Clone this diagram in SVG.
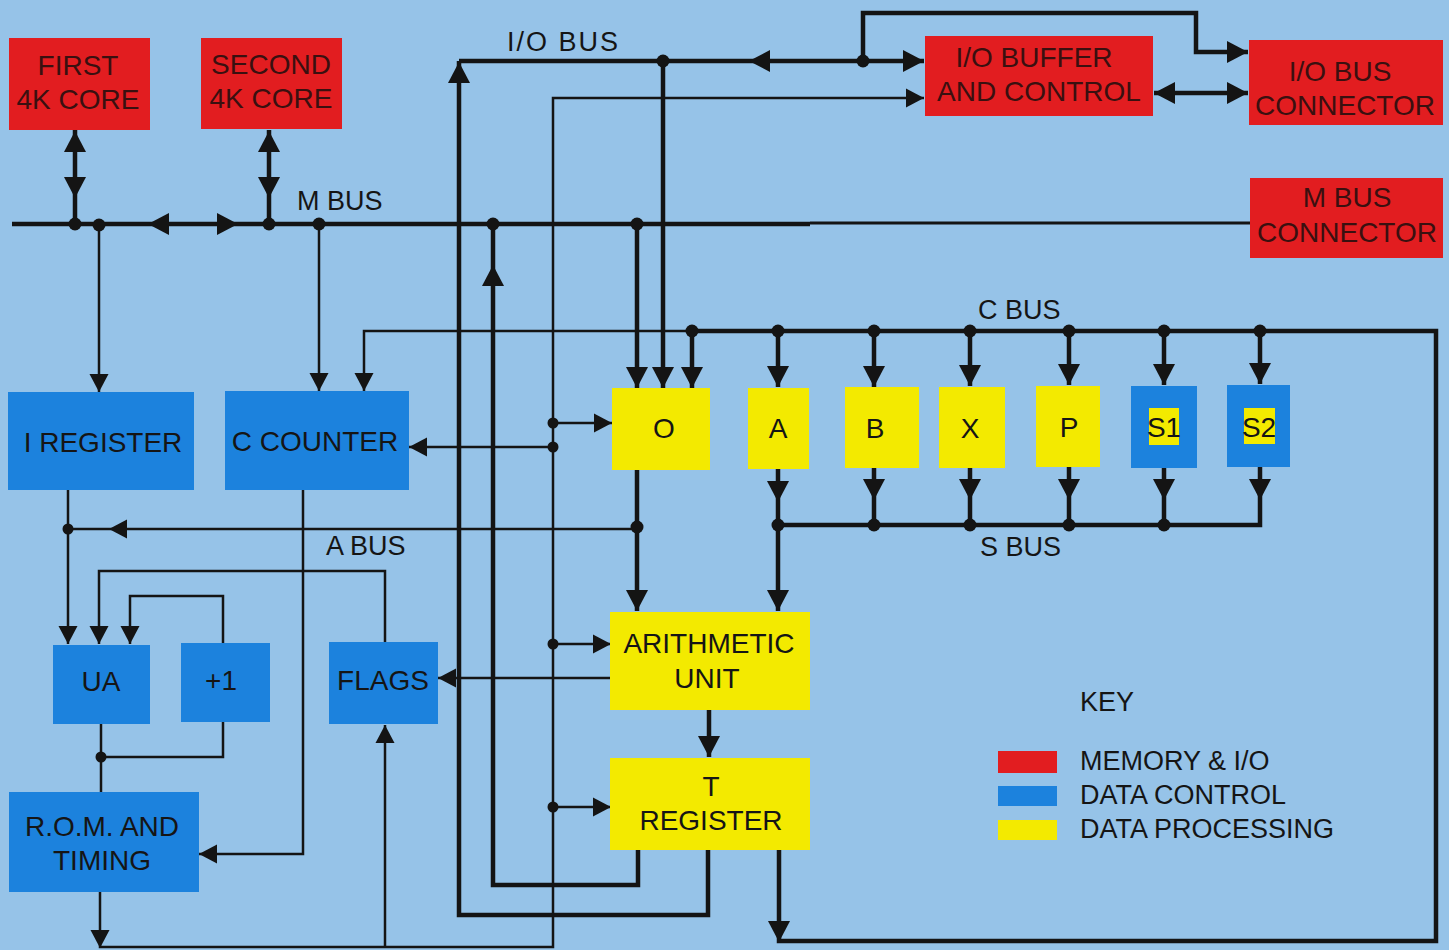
<svg xmlns="http://www.w3.org/2000/svg" xmlns:xlink="http://www.w3.org/1999/xlink" width="1449" height="950" viewBox="0 0 1449 950">
<style>
.red{fill:#e21d20}
.blue{fill:#1c82dd}
.yel{fill:#f3ea00}
.t{font-family:"Liberation Sans",Arial,sans-serif;font-size:28px;fill:#151515;text-anchor:middle}
.tr{fill:#3a1010}
.lab{font-family:"Liberation Sans",Arial,sans-serif;font-size:27px;fill:#151515}
.k{stroke:#141414;fill:none;stroke-linejoin:miter;stroke-linecap:butt}
.w{stroke-width:4.5}
.n{stroke-width:2.5}
.ah{fill:#141414}
.dot{fill:#141414}
</style>
<defs>
<path id="ab" d="M0,0 L-21,-11 L-21,11 Z"/>
<path id="as" d="M0,0 L-18,-9.5 L-18,9.5 Z"/>
</defs>
<rect x="0" y="0" width="1449" height="950" fill="#96c3e8"/>

<g id="connectors">
<!-- thick lines -->
<g class="k w">
<path d="M12,224 H810"/>
<path d="M75,130 V224 M269,130 V224"/>
<path d="M459,61 H924"/>
<path d="M459,61 V915 H708 V850"/>
<path d="M493,224 V885 H638 V850"/>
<path d="M637,224 V388"/>
<path d="M663,61 V388"/>
<path d="M692,331 V388"/>
<path d="M692,331 H1436 V941 H779 V850"/>
<path d="M778,331 V387 M874,331 V387 M970,331 V386 M1069,331 V385 M1164,331 V385 M1260,331 V384"/>
<path d="M637,470 V611"/>
<path d="M778,469 V611"/>
<path d="M778,525 H1260 V467"/>
<path d="M874,468 V525 M970,468 V525 M1069,467 V525 M1164,468 V525"/>
<path d="M709,710 V757"/>
<path d="M863,61 V13 H1196 V52 H1248"/>
<path d="M1154,93 H1248"/>
</g>
<path class="k" stroke-width="3" d="M810,223 H1250"/>
<!-- thin lines -->
<g class="k n">
<path d="M99,224 V392 M319,224 V391"/>
<path d="M364,391 V331 H692"/>
<path d="M924,98 H553 V947 H100 V892"/>
<path d="M553,423 H612 M553,447 H409 M553,644 H611 M553,807 H611"/>
<path d="M68,490 V644 M68,529 H637"/>
<path d="M303,490 V854 H199"/>
<path d="M385,642 V571 H99 V644"/>
<path d="M223,643 V596 H130 V644"/>
<path d="M101,724 V792 M223,722 V757 H101"/>
<path d="M385,947 V725"/>
<path d="M610,678 H438"/>
</g>
<!-- big arrowheads -->
<g class="ah">
<use xlink:href="#ab" transform="translate(75,131) rotate(-90)"/>
<use xlink:href="#ab" transform="translate(75,198) rotate(90)"/>
<use xlink:href="#ab" transform="translate(269,131) rotate(-90)"/>
<use xlink:href="#ab" transform="translate(269,198) rotate(90)"/>
<use xlink:href="#ab" transform="translate(148,224) rotate(180)"/>
<use xlink:href="#ab" transform="translate(238,224)"/>
<use xlink:href="#ab" transform="translate(459,62) rotate(-90)"/>
<use xlink:href="#ab" transform="translate(749,61) rotate(180)"/>
<use xlink:href="#ab" transform="translate(924,61)"/>
<use xlink:href="#ab" transform="translate(1248,52)"/>
<use xlink:href="#ab" transform="translate(1154,93) rotate(180)"/>
<use xlink:href="#ab" transform="translate(1248,93)"/>
<use xlink:href="#ab" transform="translate(493,265) rotate(-90)"/>
<use xlink:href="#ab" transform="translate(637,388) rotate(90)"/>
<use xlink:href="#ab" transform="translate(663,388) rotate(90)"/>
<use xlink:href="#ab" transform="translate(692,388) rotate(90)"/>
<use xlink:href="#ab" transform="translate(778,387) rotate(90)"/>
<use xlink:href="#ab" transform="translate(874,387) rotate(90)"/>
<use xlink:href="#ab" transform="translate(970,386) rotate(90)"/>
<use xlink:href="#ab" transform="translate(1069,385) rotate(90)"/>
<use xlink:href="#ab" transform="translate(1164,385) rotate(90)"/>
<use xlink:href="#ab" transform="translate(1260,384) rotate(90)"/>
<use xlink:href="#ab" transform="translate(778,502) rotate(90)"/>
<use xlink:href="#ab" transform="translate(874,500) rotate(90)"/>
<use xlink:href="#ab" transform="translate(970,500) rotate(90)"/>
<use xlink:href="#ab" transform="translate(1069,500) rotate(90)"/>
<use xlink:href="#ab" transform="translate(1164,500) rotate(90)"/>
<use xlink:href="#ab" transform="translate(1260,500) rotate(90)"/>
<use xlink:href="#ab" transform="translate(637,611) rotate(90)"/>
<use xlink:href="#ab" transform="translate(778,611) rotate(90)"/>
<use xlink:href="#ab" transform="translate(709,757) rotate(90)"/>
<use xlink:href="#ab" transform="translate(779,942) rotate(90)"/>
</g>
<!-- small arrowheads -->
<g class="ah">
<use xlink:href="#as" transform="translate(99,392) rotate(90)"/>
<use xlink:href="#as" transform="translate(319,391) rotate(90)"/>
<use xlink:href="#as" transform="translate(364,391) rotate(90)"/>
<use xlink:href="#as" transform="translate(924,98)"/>
<use xlink:href="#as" transform="translate(612,423)"/>
<use xlink:href="#as" transform="translate(409,447) rotate(180)"/>
<use xlink:href="#as" transform="translate(611,644)"/>
<use xlink:href="#as" transform="translate(611,807)"/>
<use xlink:href="#as" transform="translate(109,529) rotate(180)"/>
<use xlink:href="#as" transform="translate(68,644) rotate(90)"/>
<use xlink:href="#as" transform="translate(99,644) rotate(90)"/>
<use xlink:href="#as" transform="translate(130,644) rotate(90)"/>
<use xlink:href="#as" transform="translate(199,854) rotate(180)"/>
<use xlink:href="#as" transform="translate(438,678) rotate(180)"/>
<use xlink:href="#as" transform="translate(100,948) rotate(90)"/>
<use xlink:href="#as" transform="translate(385,725) rotate(-90)"/>
</g>
<!-- junction dots -->
<g class="dot">
<circle cx="75" cy="224" r="6.5"/><circle cx="99" cy="225" r="6.5"/>
<circle cx="269" cy="224" r="6.5"/><circle cx="319" cy="224" r="6.5"/>
<circle cx="493" cy="224" r="6.5"/><circle cx="637" cy="224" r="6.5"/>
<circle cx="663" cy="61" r="6.5"/><circle cx="863" cy="61" r="6.5"/>
<circle cx="692" cy="331" r="6.5"/><circle cx="778" cy="331" r="6.5"/>
<circle cx="874" cy="331" r="6.5"/><circle cx="970" cy="331" r="6.5"/>
<circle cx="1069" cy="331" r="6.5"/><circle cx="1164" cy="331" r="6.5"/>
<circle cx="1260" cy="331" r="6.5"/>
<circle cx="778" cy="525" r="6.5"/><circle cx="874" cy="525" r="6.5"/>
<circle cx="970" cy="525" r="6.5"/><circle cx="1069" cy="525" r="6.5"/>
<circle cx="1164" cy="525" r="6.5"/>
<circle cx="637" cy="527" r="6.5"/>
<circle cx="68" cy="529" r="5.5"/>
<circle cx="553" cy="423" r="5.5"/><circle cx="553" cy="447" r="5.5"/>
<circle cx="553" cy="644" r="5.5"/><circle cx="553" cy="807" r="5.5"/>
<circle cx="101" cy="757" r="5.5"/>
</g>
</g>

<g id="bus-labels" class="lab">
<text x="507" y="51" letter-spacing="2">I/O BUS</text>
<text x="297" y="210">M BUS</text>
<text x="978" y="319">C BUS</text>
<text x="326" y="555">A BUS</text>
<text x="980" y="556">S BUS</text>
</g>

<g id="first-core"><rect class="red" x="9" y="38" width="141" height="92"/>
<text class="t tr" x="78" y="75">FIRST</text><text class="t tr" x="78" y="109">4K CORE</text></g>
<g id="second-core"><rect class="red" x="201" y="38" width="141" height="91"/>
<text class="t tr" x="271" y="74">SECOND</text><text class="t tr" x="271" y="108">4K CORE</text></g>
<g id="io-buffer"><rect class="red" x="925" y="36" width="228" height="80"/>
<text class="t tr" x="1034" y="67">I/O BUFFER</text><text class="t tr" x="1039" y="101">AND CONTROL</text></g>
<g id="io-bus-connector"><rect class="red" x="1249" y="40" width="194" height="85"/>
<text class="t tr" x="1340" y="81">I/O BUS</text><text class="t tr" x="1345" y="115">CONNECTOR</text></g>
<g id="m-bus-connector"><rect class="red" x="1250" y="178" width="193" height="80"/>
<text class="t tr" x="1347" y="207">M BUS</text><text class="t tr" x="1347" y="242">CONNECTOR</text></g>

<g id="i-register"><rect class="blue" x="8" y="392" width="186" height="98"/>
<text class="t" x="103" y="452">I REGISTER</text></g>
<g id="c-counter"><rect class="blue" x="225" y="391" width="184" height="99"/>
<text class="t" x="315" y="451">C COUNTER</text></g>

<g id="reg-o"><rect class="yel" x="612" y="388" width="98" height="82"/><text class="t" x="664" y="438">O</text></g>
<g id="reg-a"><rect class="yel" x="748" y="388" width="61" height="81"/><text class="t" x="778" y="438">A</text></g>
<g id="reg-b"><rect class="yel" x="845" y="387" width="74" height="81"/><text class="t" x="875" y="438">B</text></g>
<g id="reg-x"><rect class="yel" x="939" y="387" width="66" height="81"/><text class="t" x="970" y="438">X</text></g>
<g id="reg-p"><rect class="yel" x="1036" y="386" width="64" height="81"/><text class="t" x="1069" y="437">P</text></g>
<g id="reg-s1"><rect class="blue" x="1131" y="386" width="66" height="82"/><rect class="yel" x="1149" y="408" width="30" height="37"/><text class="t" x="1164" y="437">S1</text></g>
<g id="reg-s2"><rect class="blue" x="1227" y="385" width="63" height="82"/><rect class="yel" x="1244" y="408" width="31" height="36"/><text class="t" x="1259" y="437">S2</text></g>

<g id="arith"><rect class="yel" x="610" y="612" width="200" height="98"/>
<text class="t" x="709" y="653">ARITHMETIC</text><text class="t" x="707" y="688">UNIT</text></g>
<g id="t-register"><rect class="yel" x="610" y="758" width="200" height="92"/>
<text class="t" x="711" y="796">T</text><text class="t" x="711" y="830">REGISTER</text></g>

<g id="ua"><rect class="blue" x="53" y="645" width="97" height="79"/><text class="t" x="101" y="691">UA</text></g>
<g id="plus1"><rect class="blue" x="181" y="643" width="89" height="79"/><text class="t" x="221" y="690">+1</text></g>
<g id="flags"><rect class="blue" x="329" y="642" width="109" height="82"/><text class="t" x="383" y="690">FLAGS</text></g>
<g id="rom"><rect class="blue" x="9" y="792" width="190" height="100"/>
<text class="t" x="102" y="836">R.O.M. AND</text><text class="t" x="102" y="870">TIMING</text></g>

<g id="key">
<text class="lab" x="1080" y="711">KEY</text>
<rect class="red" x="998" y="751" width="59" height="22"/>
<rect class="blue" x="998" y="786" width="59" height="20"/>
<rect class="yel" x="998" y="820" width="59" height="20"/>
<text class="lab" x="1080" y="770" font-size="28">MEMORY &amp; I/O</text>
<text class="lab" x="1080" y="804" font-size="28">DATA CONTROL</text>
<text class="lab" x="1080" y="838" font-size="28">DATA PROCESSING</text>
</g>
</svg>
